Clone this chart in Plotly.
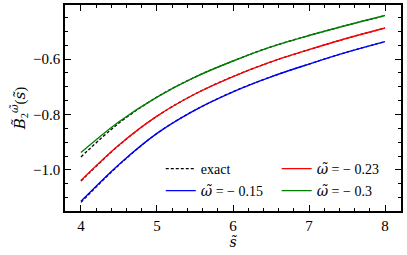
import plotly.graph_objects as go

s_vals = [4.0, 4.5, 5.0, 5.5, 6.0, 6.5, 7.0, 7.5, 8.0]

b_m015 = [-1.113, -0.980, -0.868, -0.784, -0.718, -0.664, -0.618, -0.575, -0.537]
b_m023 = [-1.038, -0.910, -0.806, -0.726, -0.663, -0.610, -0.566, -0.525, -0.488]
b_m030 = [-0.937, -0.826, -0.737, -0.665, -0.607, -0.556, -0.515, -0.478, -0.443]

exact_m015 = [-1.117, -0.982, -0.868, -0.784, -0.718, -0.664, -0.618, -0.575, -0.537]
exact_m023 = [-1.040, -0.911, -0.806, -0.726, -0.663, -0.610, -0.566, -0.525, -0.488]
exact_m030 = [-0.953, -0.831, -0.737, -0.665, -0.607, -0.556, -0.515, -0.478, -0.443]

x_ticks = [4, 5, 6, 7, 8]
y_ticks = [-1.0, -0.8, -0.6]
y_tick_text = ["\u22121.0", "\u22120.8", "\u22120.6"]

FONT = "Liberation Serif, Times New Roman, serif"
OM = '<span style="font-family:DejaVu Serif"><i>\u03c9\u0303</i></span>'
fig = go.Figure()

for i, ex in enumerate([exact_m015, exact_m023, exact_m030]):
    fig.add_trace(go.Scatter(
        x=s_vals, y=ex, mode="lines", line=dict(color="black", width=1.3, dash="3px,2px", shape="spline"),
        name="exact", showlegend=(i == 0), legend="legend"))

fig.add_trace(go.Scatter(x=s_vals, y=b_m023, mode="lines", line=dict(color="#ff0000", width=1.4, shape="spline"),
                         name=OM + " = \u2212 0.23", legend="legend2"))
fig.add_trace(go.Scatter(x=s_vals, y=b_m015, mode="lines", line=dict(color="#0000ff", width=1.4, shape="spline"),
                         name=OM + " = \u2212 0.15", legend="legend3"))
fig.add_trace(go.Scatter(x=s_vals, y=b_m030, mode="lines", line=dict(color="#008000", width=1.4, shape="spline"),
                         name=OM + " = \u2212 0.3", legend="legend4"))

axis_common = dict(showline=True, linecolor="black", linewidth=1.5, mirror="ticks", ticks="inside",
                   ticklen=6, tickwidth=1.3, tickcolor="black", showgrid=False, zeroline=False,
                   automargin=False, tickfont=dict(family=FONT, size=15, color="black"))

fig.update_xaxes(range=[3.79, 8.21], tickvals=x_ticks,
                 minor=dict(dtick=0.2, ticks="inside", ticklen=3, tickwidth=1, tickcolor="black"),
                 title=dict(text='<span style="font-family:DejaVu Serif"><i>s\u0303</i></span>',
                            font=dict(family=FONT, size=14, color="black"), standoff=2),
                 **axis_common)
fig.update_yaxes(range=[-1.148, -0.405], tickvals=y_ticks, ticktext=y_tick_text,
                 minor=dict(dtick=0.05, ticks="inside", ticklen=3, tickwidth=1, tickcolor="black"),
                 title=dict(text='<span style="font-family:DejaVu Serif"><i>B\u0303</i></span><sub>2</sub><sup>'
                                 + OM + '</sup>(<span style="font-family:DejaVu Serif"><i>s\u0303</i></span>)',
                            font=dict(family=FONT, size=15, color="black"), standoff=4),
                 **axis_common)

leg = dict(bgcolor="rgba(0,0,0,0)", font=dict(family=FONT, size=14, color="black"),
           xanchor="left", yanchor="middle", borderwidth=0)
fig.update_layout(
    width=407, height=255, margin=dict(l=65, r=6, t=5, b=44),
    paper_bgcolor="white", plot_bgcolor="white",
    font=dict(family=FONT, size=14, color="black"),
    legend=dict(x=0.285, y=0.204, **leg),
    legend2=dict(x=0.63, y=0.204, **leg),
    legend3=dict(x=0.285, y=0.097, **leg),
    legend4=dict(x=0.63, y=0.097, **leg),
)

fig.write_html("out.html", config={"displayModeBar": False},
               post_script="document.body.style.margin='0';document.body.style.overflow='hidden';")
